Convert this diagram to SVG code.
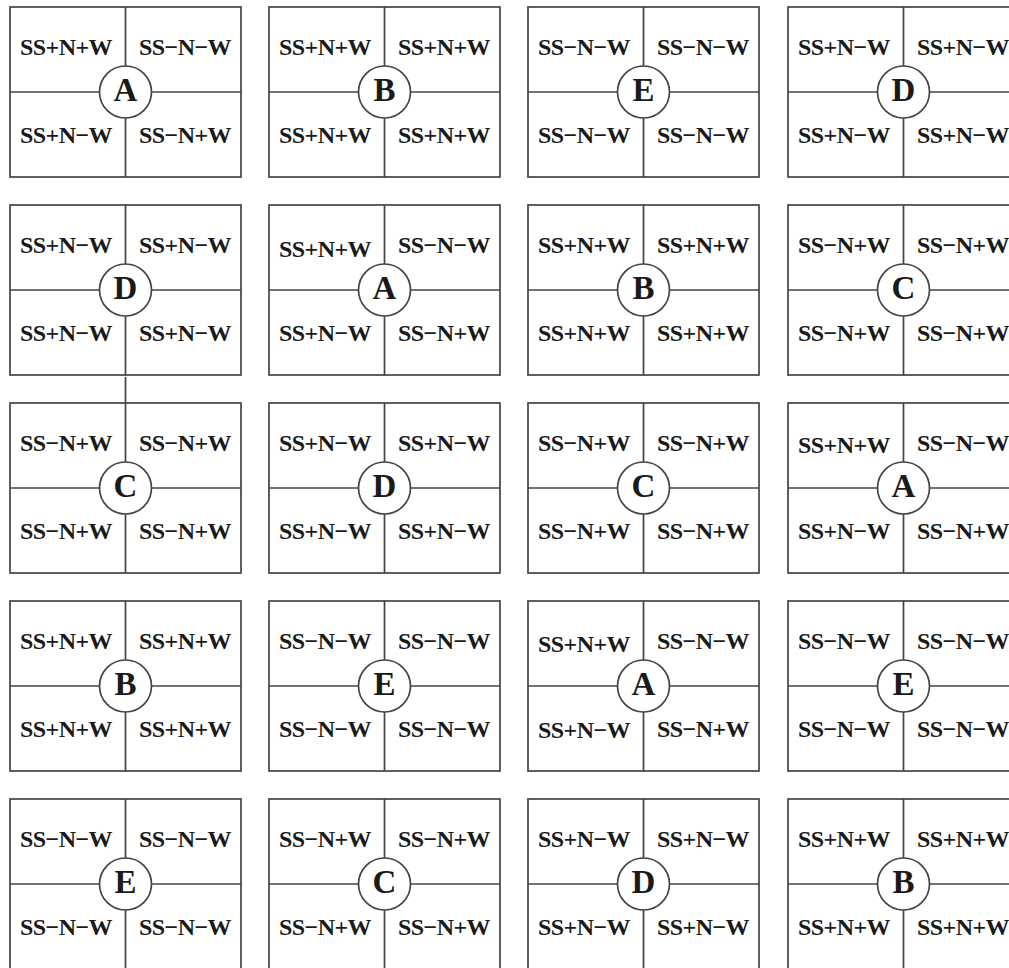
<svg xmlns="http://www.w3.org/2000/svg" width="1009" height="968" viewBox="0 0 1009 968">
<style>
.box{fill:#fff;stroke:#444;stroke-width:1.7}
.div{stroke:#444;stroke-width:1.7}
.hub{fill:#fff;stroke:#444;stroke-width:1.7}
.q{font-family:"Liberation Serif","Times New Roman",serif;font-size:24px;font-weight:bold;letter-spacing:-0.6px;fill:#1a1a1a;text-anchor:middle}
.c{font-family:"Liberation Serif","Times New Roman",serif;font-size:33px;font-weight:bold;fill:#1a1a1a;text-anchor:middle}
.conn{stroke:#444;stroke-width:1.7}
</style>
<defs>
<g id="frame">
<rect class="box" x="0" y="0" width="231" height="170"/>
<line class="div" x1="115.5" y1="0" x2="115.5" y2="170"/>
<line class="div" x1="0" y1="85" x2="231" y2="85"/>
<circle class="hub" cx="115.5" cy="85" r="26"/>
</g>
</defs>
<rect width="1009" height="968" fill="#fff"/>
<g id="connectors">
<line class="conn" x1="125.5" y1="377" x2="125.5" y2="403"/>
</g>
<g id="r1c1" transform="translate(10,7)"><use href="#frame"/><text class="q" x="56" y="48">SS+N+W</text><text class="q" x="175" y="48">SS−N−W</text><text class="q" x="56" y="136">SS+N−W</text><text class="q" x="175" y="136">SS−N+W</text><text class="c" x="115.5" y="94">A</text></g>
<g id="r1c2" transform="translate(269,7)"><use href="#frame"/><text class="q" x="56" y="48">SS+N+W</text><text class="q" x="175" y="48">SS+N+W</text><text class="q" x="56" y="136">SS+N+W</text><text class="q" x="175" y="136">SS+N+W</text><text class="c" x="115.5" y="94">B</text></g>
<g id="r1c3" transform="translate(528,7)"><use href="#frame"/><text class="q" x="56" y="48">SS−N−W</text><text class="q" x="175" y="48">SS−N−W</text><text class="q" x="56" y="136">SS−N−W</text><text class="q" x="175" y="136">SS−N−W</text><text class="c" x="115.5" y="94">E</text></g>
<g id="r1c4" transform="translate(788,7)"><use href="#frame"/><text class="q" x="56" y="48">SS+N−W</text><text class="q" x="175" y="48">SS+N−W</text><text class="q" x="56" y="136">SS+N−W</text><text class="q" x="175" y="136">SS+N−W</text><text class="c" x="115.5" y="94">D</text></g>

<g id="r2c1" transform="translate(10,205)"><use href="#frame"/><text class="q" x="56" y="48">SS+N−W</text><text class="q" x="175" y="48">SS+N−W</text><text class="q" x="56" y="136">SS+N−W</text><text class="q" x="175" y="136">SS+N−W</text><text class="c" x="115.5" y="94">D</text></g>
<g id="r2c2" transform="translate(269,205)"><use href="#frame"/><text class="q" x="56" y="52">SS+N+W</text><text class="q" x="175" y="48">SS−N−W</text><text class="q" x="56" y="136">SS+N−W</text><text class="q" x="175" y="136">SS−N+W</text><text class="c" x="115.5" y="94">A</text></g>
<g id="r2c3" transform="translate(528,205)"><use href="#frame"/><text class="q" x="56" y="48">SS+N+W</text><text class="q" x="175" y="48">SS+N+W</text><text class="q" x="56" y="136">SS+N+W</text><text class="q" x="175" y="136">SS+N+W</text><text class="c" x="115.5" y="94">B</text></g>
<g id="r2c4" transform="translate(788,205)"><use href="#frame"/><text class="q" x="56" y="48">SS−N+W</text><text class="q" x="175" y="48">SS−N+W</text><text class="q" x="56" y="136">SS−N+W</text><text class="q" x="175" y="136">SS−N+W</text><text class="c" x="115.5" y="94">C</text></g>

<g id="r3c1" transform="translate(10,403)"><use href="#frame"/><text class="q" x="56" y="48">SS−N+W</text><text class="q" x="175" y="48">SS−N+W</text><text class="q" x="56" y="136">SS−N+W</text><text class="q" x="175" y="136">SS−N+W</text><text class="c" x="115.5" y="94">C</text></g>
<g id="r3c2" transform="translate(269,403)"><use href="#frame"/><text class="q" x="56" y="48">SS+N−W</text><text class="q" x="175" y="48">SS+N−W</text><text class="q" x="56" y="136">SS+N−W</text><text class="q" x="175" y="136">SS+N−W</text><text class="c" x="115.5" y="94">D</text></g>
<g id="r3c3" transform="translate(528,403)"><use href="#frame"/><text class="q" x="56" y="48">SS−N+W</text><text class="q" x="175" y="48">SS−N+W</text><text class="q" x="56" y="136">SS−N+W</text><text class="q" x="175" y="136">SS−N+W</text><text class="c" x="115.5" y="94">C</text></g>
<g id="r3c4" transform="translate(788,403)"><use href="#frame"/><text class="q" x="56" y="50">SS+N+W</text><text class="q" x="175" y="48">SS−N−W</text><text class="q" x="56" y="136">SS+N−W</text><text class="q" x="175" y="136">SS−N+W</text><text class="c" x="115.5" y="94">A</text></g>

<g id="r4c1" transform="translate(10,601)"><use href="#frame"/><text class="q" x="56" y="48">SS+N+W</text><text class="q" x="175" y="48">SS+N+W</text><text class="q" x="56" y="136">SS+N+W</text><text class="q" x="175" y="136">SS+N+W</text><text class="c" x="115.5" y="94">B</text></g>
<g id="r4c2" transform="translate(269,601)"><use href="#frame"/><text class="q" x="56" y="48">SS−N−W</text><text class="q" x="175" y="48">SS−N−W</text><text class="q" x="56" y="136">SS−N−W</text><text class="q" x="175" y="136">SS−N−W</text><text class="c" x="115.5" y="94">E</text></g>
<g id="r4c3" transform="translate(528,601)"><use href="#frame"/><text class="q" x="56" y="51">SS+N+W</text><text class="q" x="175" y="48">SS−N−W</text><text class="q" x="56" y="137">SS+N−W</text><text class="q" x="175" y="136">SS−N+W</text><text class="c" x="115.5" y="94">A</text></g>
<g id="r4c4" transform="translate(788,601)"><use href="#frame"/><text class="q" x="56" y="48">SS−N−W</text><text class="q" x="175" y="48">SS−N−W</text><text class="q" x="56" y="136">SS−N−W</text><text class="q" x="175" y="136">SS−N−W</text><text class="c" x="115.5" y="94">E</text></g>

<g id="r5c1" transform="translate(10,799)"><use href="#frame"/><text class="q" x="56" y="48">SS−N−W</text><text class="q" x="175" y="48">SS−N−W</text><text class="q" x="56" y="136">SS−N−W</text><text class="q" x="175" y="136">SS−N−W</text><text class="c" x="115.5" y="94">E</text></g>
<g id="r5c2" transform="translate(269,799)"><use href="#frame"/><text class="q" x="56" y="48">SS−N+W</text><text class="q" x="175" y="48">SS−N+W</text><text class="q" x="56" y="136">SS−N+W</text><text class="q" x="175" y="136">SS−N+W</text><text class="c" x="115.5" y="94">C</text></g>
<g id="r5c3" transform="translate(528,799)"><use href="#frame"/><text class="q" x="56" y="48">SS+N−W</text><text class="q" x="175" y="48">SS+N−W</text><text class="q" x="56" y="136">SS+N−W</text><text class="q" x="175" y="136">SS+N−W</text><text class="c" x="115.5" y="94">D</text></g>
<g id="r5c4" transform="translate(788,799)"><use href="#frame"/><text class="q" x="56" y="48">SS+N+W</text><text class="q" x="175" y="48">SS+N+W</text><text class="q" x="56" y="136">SS+N+W</text><text class="q" x="175" y="136">SS+N+W</text><text class="c" x="115.5" y="94">B</text></g>
</svg>
